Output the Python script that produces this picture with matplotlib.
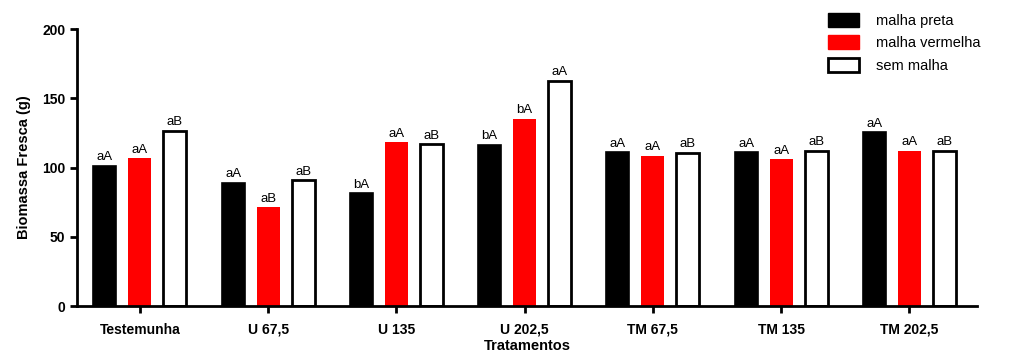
import numpy as np
import matplotlib
matplotlib.use("Agg")
import matplotlib.pyplot as plt
from matplotlib.patches import Patch

plt.rcParams['font.family'] = ['Liberation Sans', 'DejaVu Sans']

tratamentos = ["Testemunha", "U 67,5", "U 135", "U 202,5", "TM 67,5", "TM 135", "TM 202,5"]
malha_preta = [101.3, 88.8, 81.4, 116.5, 111.0, 111.0, 125.4]
malha_vermelha = [106.6, 71.3, 118.2, 135.3, 108.3, 105.9, 112.1]
sem_malha = [126.4, 90.7, 116.7, 162.7, 110.7, 111.9, 112.1]
letras_preta = ["aA", "aA", "bA", "bA", "aA", "aA", "aA"]
letras_vermelha = ["aA", "aB", "aA", "bA", "aA", "aA", "aA"]
letras_sem = ["aB", "aB", "aB", "aA", "aB", "aB", "aB"]

fig = plt.figure(figsize=(10.19, 3.55), dpi=100)
ax = fig.add_axes([0.0756, 0.138, 0.883, 0.780])

x = np.arange(len(tratamentos))
w = 0.18
off = 0.273
series = [
    (malha_preta, letras_preta, dict(color="black", edgecolor="black", linewidth=1.2)),
    (malha_vermelha, letras_vermelha, dict(color="#ff0000", edgecolor="#ff0000", linewidth=0)),
    (sem_malha, letras_sem, dict(color="white", edgecolor="black", linewidth=2.0)),
]
for i, (vals, letras, style) in enumerate(series):
    pos = x + (i - 1) * off
    ax.bar(pos, vals, width=w, **style)
    for p, v, t in zip(pos, vals, letras):
        ax.text(p, v + 2, t, ha="center", va="bottom", fontsize=9.5)

ax.set_xlim(-0.49, 6.526)
ax.set_ylim(0, 200)
ax.set_yticks([0, 50, 100, 150, 200])
ax.set_xticks(x)
ax.set_xticklabels(tratamentos, fontweight="bold", fontsize=10)
for lab in ax.get_yticklabels():
    lab.set_fontweight("bold")
    lab.set_fontsize(10)
ax.spines["top"].set_visible(False)
ax.spines["right"].set_visible(False)
ax.spines["left"].set_linewidth(2)
ax.spines["bottom"].set_linewidth(2)
ax.tick_params(axis="both", width=2, length=5, direction="out")
ax.tick_params(axis="x", pad=7)
ax.set_ylabel("Biomassa Fresca (g)", fontweight="bold", fontsize=10.5, labelpad=8)
ax.set_xlabel("Tratamentos", fontweight="bold", fontsize=10.5, labelpad=2)

handles = [Patch(facecolor="black", edgecolor="black"),
           Patch(facecolor="#ff0000", edgecolor="#ff0000"),
           Patch(facecolor="white", edgecolor="black", linewidth=2)]
fig.legend(handles, ["malha preta", "malha vermelha", "sem malha"],
           loc="upper left", bbox_to_anchor=(0.8, 1.0), frameon=False,
           fontsize=10.5, handlelength=2.1, handleheight=1.1, labelspacing=0.5,
           handletextpad=1.2)

fig.savefig("out.png", dpi=100)
